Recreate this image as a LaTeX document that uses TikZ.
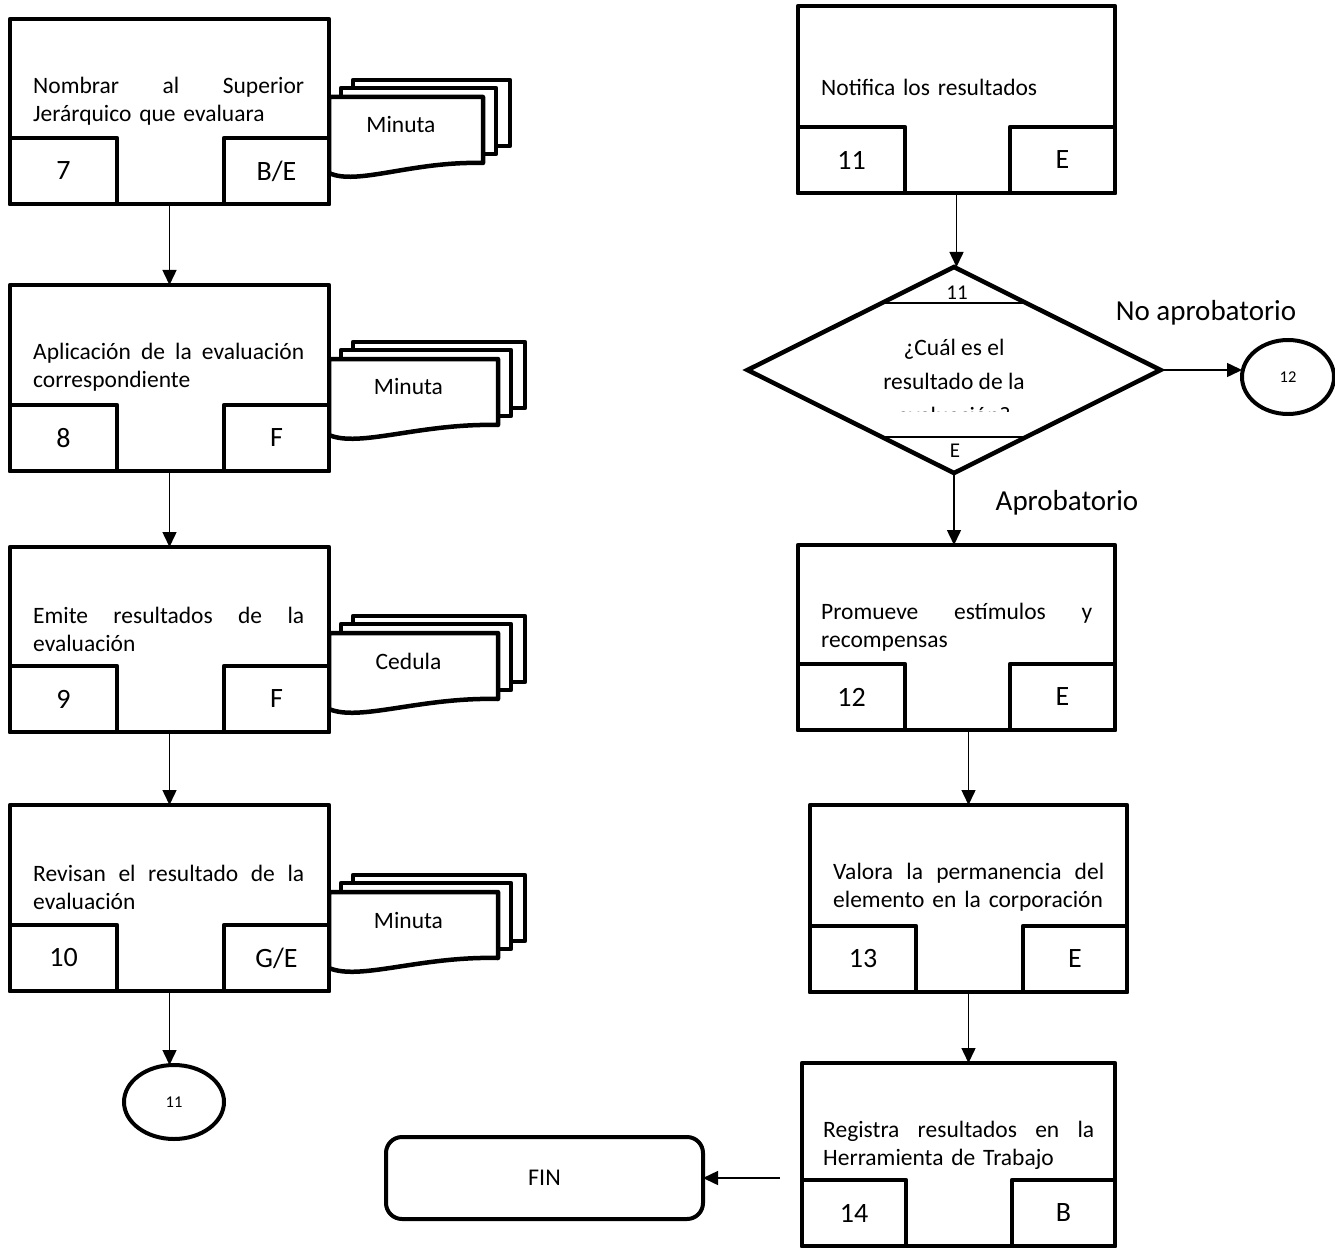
\documentclass[tikz,border=0pt]{standalone}
\usepackage{fontspec}
\setmainfont{Carlito}
\usetikzlibrary{arrows.meta,shapes.geometric}
\tikzset{
 boxout/.style={draw, fill=white, line width=4.5pt, line join=round, rectangle, anchor=north west, inner sep=0pt, outer sep=0pt},
 boxin/.style={draw, fill=white, line width=4.5pt, line join=round, rectangle, inner sep=0pt, outer sep=0pt, minimum height=66pt, font=\fontsize{28}{32}\selectfont},
 btext/.style={anchor=west, text width=271pt, align=left, inner sep=0pt, font=\fontsize{23.5}{28}\selectfont},
 docshape/.style={draw, fill=white, line width=4.5pt, line join=round},
 doclabel/.style={inner sep=0pt, font=\fontsize{23.5}{28}\selectfont},
 arr/.style={line width=1.5pt, -{Triangle[length=15pt,width=14pt]}},
 conn/.style={draw, ellipse, line width=4pt, fill=white, inner sep=0pt, outer sep=0pt, font=\fontsize{16.5}{20}\selectfont},
 branch/.style={inner sep=0pt, font=\fontsize{29}{34}\selectfont},
 dlab/.style={inner sep=0pt, font=\fontsize{21}{24}\selectfont}
}
% process box: name, left, top, right, bottom, small-left right edge, small-right left edge, number, code
\newcommand{\pbox}[9]{%
 \pgfmathsetmacro{\pbW}{#4-#2}\pgfmathsetmacro{\pbH}{#5-#3}%
 \pgfmathsetmacro{\pbSL}{#6-#2}\pgfmathsetmacro{\pbSR}{#4-#7}%
 \node[boxout, minimum width=\pbW pt, minimum height=\pbH pt] (#1) at (#2,#3) {};
 \node[boxin, minimum width=\pbSL pt, anchor=south west] (#1n) at (#2,#5) {#8};
 \node[boxin, minimum width=\pbSR pt, anchor=south east] (#1c) at (#4,#5) {#9};
}
% document stack: name, left, right, top, label
\newcommand{\docstack}[5]{%
 \pgfmathsetmacro{\dsW}{#3-#2}%
 \pgfmathsetmacro{\dsPa}{#3-0.46*\dsW}%
 \pgfmathsetmacro{\dsPb}{#2+0.18*\dsW}%
 \pgfmathsetmacro{\dsC}{(#2+#3)/2-5}%
 \draw[docshape] (#2+24,#4-17) rectangle (#3+27,#4+49);
 \draw[docshape] (#2+12,#4-9) rectangle (#3+13,#4+57);
 \draw[docshape] (#2,#4) -- (#3,#4) -- (#3,#4+66) .. controls (\dsPa,#4+64) and (\dsPb,#4+89) .. (#2,#4+76) -- cycle;
 \node[doclabel] (#1) at (\dsC,#4+28) {#5};
}
\begin{document}
\begin{tikzpicture}[x=1pt,y=-1pt]
\useasboundingbox (0,0) rectangle (1335,1249);

% ---- document stacks (behind boxes)
\docstack{m7}{329}{483}{97}{Minuta}
\docstack{m8}{329}{498}{359}{Minuta}
\docstack{m9}{329}{498}{633}{Cedula}
\docstack{m10}{329}{498}{892}{Minuta}

% ---- left column
\pbox{b7}{10}{19}{329}{204}{117}{224}{7}{B/E}
\node[btext] (t7) at (33,101) {Nombrar\hfill al\hfill Superior\\Jerárquico que evaluara};
\pbox{b8}{10}{285}{329}{471}{117}{224}{8}{F}
\node[btext] (t8) at (33,367) {Aplicación\hfill de\hfill la\hfill evaluación\\correspondiente};
\pbox{b9}{10}{547}{329}{732}{117}{224}{9}{F}
\node[btext] (t9) at (33,629) {Emite\hfill resultados\hfill de\hfill la\\evaluación};
\pbox{b10}{10}{805}{329}{991}{117}{224}{10}{G/E}
\node[btext] (t10) at (33,887) {Revisan\hfill el\hfill resultado\hfill de\hfill la\\evaluación};
\node[conn, minimum width=100pt, minimum height=74pt] (c11) at (174,1102) {11};

% ---- right column
\pbox{b11}{798}{6}{1115}{193}{905}{1010}{11}{E}
\node[btext] (t11) at (821,87) {Notifica los resultados};

\node[diamond, draw, fill=white, line width=4.5pt, minimum width=413pt, minimum height=206pt, inner sep=0pt, outer sep=0pt] (d) at (954,370) {};
\draw[line width=1.5pt] (882,303) -- (1026,303);
\draw[line width=1.5pt] (882,437) -- (1026,437);
\node[dlab] (d11) at (957,293) {11};
\node[dlab] (dE) at (955,451) {E};
\begin{scope}
\clip (820,320) rectangle (1090,411);
\node[inner sep=0pt, align=center, font=\fontsize{23.5}{34}\selectfont] (dq) at (954,381) {¿Cuál es el\\resultado de la\\evaluación?};
\end{scope}
\node[conn, minimum width=92pt, minimum height=74pt] (c12) at (1288,377) {12};
\node[branch] (lno) at (1206,313) {No aprobatorio};
\node[branch] (lap) at (1067,503) {Aprobatorio};

\pbox{b12}{798}{545}{1115}{730}{905}{1010}{12}{E}
\node[btext] (t12) at (821,627) {Promueve\hfill estímulos\hfill y\\recompensas};
\pbox{b13}{810}{805}{1127}{992}{916}{1023}{13}{E}
\node[btext] (t13) at (833,887) {Valora\hfill la\hfill permanencia\hfill del\\elemento en la corporación};
\pbox{b14}{802}{1063}{1115}{1246}{906}{1012}{14}{B}
\node[btext] (t14) at (823,1145) {Registra\hfill resultados\hfill en\hfill la\\Herramienta de Trabajo};

\node[draw, line width=4pt, rounded corners=16pt, minimum width=317pt, minimum height=82pt, inner sep=0pt, outer sep=0pt, font=\fontsize{24}{28}\selectfont] (fin) at (544.5,1178) {FIN};
\coordinate (finsrc) at (780,1178);

% ---- connectors
\draw[arr] (b7.south) -- (b8.north);
\draw[arr] (b8.south) -- (b9.north);
\draw[arr] (b9.south) -- (b10.north);
\draw[arr] (b10.south) -- (b10.south |- c11.north);
\draw[arr] (b11.south) -- (b11.south |- d.north);
\draw[arr] (d.east) -- (d.east -| c12.west);
\draw[arr] (d.south) -- (d.south |- b12.north);
\draw[arr] (b13.north |- b12.south) -- (b13.north);
\draw[arr] (b13.south) -- (b13.south |- b14.north);
\draw[arr] (finsrc) -- (fin.east);
\end{tikzpicture}
\end{document}
